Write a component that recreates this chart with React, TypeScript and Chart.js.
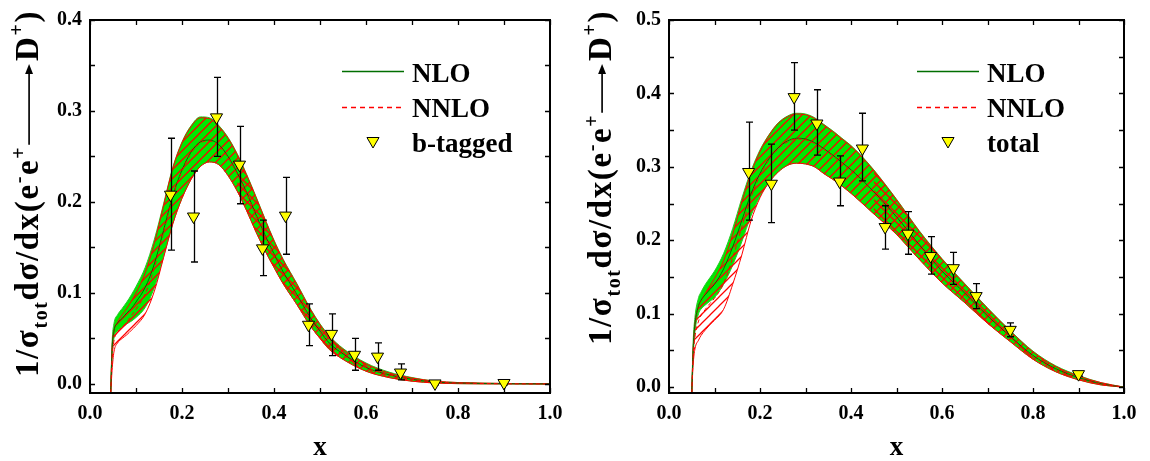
import React, { useEffect, useRef } from 'react';
import { Chart, registerables } from 'chart.js';
Chart.register(...registerables);

// ---------------- data ----------------
const X_TICK_VALUES = [0, 0.1, 0.2, 0.3, 0.4, 0.5, 0.6, 0.7, 0.8, 0.9, 1.0];
const X_TICK_LABELS = ['0.0', '0.2', '0.4', '0.6', '0.8', '1.0'];
const Y_TICK_VALUES_B = [0, 0.05, 0.1, 0.15, 0.2, 0.25, 0.3, 0.35, 0.4];
const Y_TICK_LABELS_B = ['0.0', '0.1', '0.2', '0.3', '0.4'];
const Y_TICK_VALUES_T = [0, 0.05, 0.1, 0.15, 0.2, 0.25, 0.3, 0.35, 0.4, 0.45, 0.5];
const Y_TICK_LABELS_T = ['0.0', '0.1', '0.2', '0.3', '0.4', '0.5'];

// left panel (b-tagged) theory curves
const XB = [0.045, 0.048, 0.052, 0.06, 0.07, 0.08, 0.09, 0.10, 0.12, 0.14, 0.16, 0.18, 0.20, 0.22, 0.24, 0.26, 0.28, 0.30, 0.32, 0.34, 0.36, 0.38, 0.40, 0.42, 0.45, 0.48, 0.50, 0.52, 0.55, 0.60, 0.65, 0.70, 0.75, 0.80, 0.90, 1.0];
const NLO_UP_B = [-0.01, 0.045, 0.066, 0.076, 0.083, 0.090, 0.098, 0.107, 0.128, 0.159, 0.198, 0.238, 0.266, 0.284, 0.2935, 0.2925, 0.284, 0.271, 0.253, 0.231, 0.207, 0.182, 0.158, 0.137, 0.110, 0.082, 0.066, 0.053, 0.039, 0.023, 0.013, 0.007, 0.003, 0.0015, 0.0005, 0.0];
const NLO_LO_B = [-0.01, 0.030, 0.050, 0.058, 0.062, 0.066, 0.069, 0.073, 0.084, 0.106, 0.140, 0.176, 0.204, 0.225, 0.239, 0.244, 0.241, 0.229, 0.212, 0.191, 0.168, 0.147, 0.128, 0.110, 0.087, 0.063, 0.050, 0.038, 0.027, 0.014, 0.007, 0.003, 0.001, 0.0003, 0.0, 0.0];
const NNLO_UP_B = [-0.01, 0.040, 0.058, 0.068, 0.076, 0.083, 0.091, 0.100, 0.122, 0.155, 0.196, 0.237, 0.265, 0.283, 0.2925, 0.2915, 0.283, 0.270, 0.252, 0.230, 0.206, 0.181, 0.157, 0.136, 0.109, 0.081, 0.065, 0.052, 0.038, 0.022, 0.012, 0.0065, 0.003, 0.0015, 0.0005, 0.0];
const NNLO_LO_B = [-0.01, 0.015, 0.035, 0.045, 0.050, 0.054, 0.059, 0.064, 0.077, 0.102, 0.139, 0.176, 0.204, 0.225, 0.239, 0.244, 0.241, 0.229, 0.212, 0.191, 0.168, 0.147, 0.128, 0.110, 0.087, 0.063, 0.050, 0.038, 0.027, 0.014, 0.007, 0.003, 0.001, 0.0003, 0.0, 0.0];
const NLO_C_B = [-0.01, 0.038, 0.058, 0.067, 0.072, 0.078, 0.083, 0.090, 0.106, 0.132, 0.169, 0.207, 0.235, 0.255, 0.266, 0.268, 0.263, 0.250, 0.232, 0.211, 0.187, 0.164, 0.143, 0.123, 0.098, 0.072, 0.058, 0.045, 0.033, 0.018, 0.010, 0.005, 0.002, 0.001, 0.0002, 0.0];
const NNLO_C_B = [-0.01, 0.028, 0.047, 0.057, 0.062, 0.068, 0.075, 0.082, 0.099, 0.128, 0.167, 0.206, 0.234, 0.254, 0.265, 0.267, 0.262, 0.249, 0.231, 0.210, 0.186, 0.163, 0.142, 0.122, 0.097, 0.071, 0.057, 0.044, 0.032, 0.018, 0.010, 0.005, 0.002, 0.001, 0.0002, 0.0];

// right panel (total) theory curves
const XT = [0.05, 0.053, 0.057, 0.065, 0.07, 0.08, 0.09, 0.10, 0.12, 0.14, 0.16, 0.18, 0.20, 0.22, 0.24, 0.26, 0.28, 0.30, 0.32, 0.34, 0.36, 0.38, 0.40, 0.42, 0.45, 0.50, 0.55, 0.60, 0.65, 0.70, 0.75, 0.80, 0.85, 0.90, 0.95, 1.0];
const NLO_UP_T = [-0.008, 0.060, 0.095, 0.122, 0.129, 0.140, 0.149, 0.158, 0.182, 0.216, 0.257, 0.294, 0.323, 0.344, 0.360, 0.369, 0.373, 0.372, 0.367, 0.358, 0.349, 0.339, 0.329, 0.317, 0.296, 0.256, 0.213, 0.175, 0.141, 0.108, 0.077, 0.049, 0.029, 0.016, 0.006, 0.0];
const NLO_LO_T = [-0.008, 0.040, 0.075, 0.100, 0.106, 0.112, 0.117, 0.122, 0.140, 0.166, 0.198, 0.233, 0.260, 0.279, 0.293, 0.302, 0.305, 0.304, 0.300, 0.291, 0.283, 0.274, 0.264, 0.253, 0.236, 0.208, 0.174, 0.142, 0.115, 0.087, 0.062, 0.038, 0.021, 0.010, 0.003, 0.0];
const NNLO_UP_T = [-0.008, 0.050, 0.085, 0.110, 0.117, 0.128, 0.138, 0.148, 0.172, 0.208, 0.252, 0.291, 0.321, 0.343, 0.359, 0.368, 0.372, 0.371, 0.366, 0.357, 0.348, 0.338, 0.328, 0.316, 0.295, 0.255, 0.212, 0.174, 0.140, 0.107, 0.076, 0.048, 0.028, 0.015, 0.006, 0.0];
const NNLO_LO_T = [-0.008, 0.030, 0.052, 0.064, 0.070, 0.078, 0.085, 0.091, 0.106, 0.140, 0.180, 0.226, 0.258, 0.279, 0.293, 0.302, 0.305, 0.304, 0.300, 0.291, 0.283, 0.274, 0.264, 0.253, 0.236, 0.208, 0.174, 0.142, 0.115, 0.087, 0.062, 0.038, 0.021, 0.010, 0.003, 0.0];
const NLO_C_T = [-0.008, 0.050, 0.085, 0.111, 0.118, 0.126, 0.133, 0.140, 0.161, 0.191, 0.227, 0.263, 0.291, 0.311, 0.326, 0.335, 0.339, 0.338, 0.333, 0.325, 0.316, 0.306, 0.296, 0.285, 0.266, 0.232, 0.194, 0.158, 0.128, 0.097, 0.069, 0.043, 0.025, 0.013, 0.0045, 0.0];
const NNLO_C_T = [-0.008, 0.040, 0.068, 0.090, 0.097, 0.106, 0.114, 0.121, 0.141, 0.176, 0.218, 0.258, 0.289, 0.310, 0.325, 0.334, 0.338, 0.337, 0.332, 0.324, 0.315, 0.305, 0.295, 0.284, 0.265, 0.231, 0.193, 0.157, 0.127, 0.096, 0.068, 0.042, 0.024, 0.012, 0.0043, 0.0];

// measured points
const DATA_X = [0.175, 0.225, 0.275, 0.325, 0.375, 0.425, 0.475, 0.525, 0.575, 0.625, 0.675, 0.75, 0.9];
const BTAG_Y = [0.208, 0.184, 0.293, 0.241, 0.149, 0.185, 0.065, 0.055, 0.032, 0.030, 0.0125, 0.0005, 0.001];
const BTAG_HI = [0.270, 0.234, 0.337, 0.283, 0.180, 0.227, 0.088, 0.077, 0.050, 0.045, 0.022, 0.002, 0.003];
const BTAG_LO = [0.147, 0.134, 0.250, 0.198, 0.119, 0.1425, 0.042, 0.031, 0.015, 0.015, 0.0044, -0.001, -0.001];
const TOTAL_Y = [0.293, 0.277, 0.395, 0.359, 0.280, 0.325, 0.218, 0.209, 0.1785, 0.162, 0.124, 0.078, 0.0177];
const TOTAL_HI = [0.361, 0.331, 0.442, 0.405, 0.315, 0.373, 0.247, 0.239, 0.205, 0.1835, 0.141, 0.0876, 0.021];
const TOTAL_LO = [0.2275, 0.224, 0.350, 0.316, 0.247, 0.281, 0.188, 0.181, 0.154, 0.140, 0.107, 0.0686, 0.015];

// ---------------- styling ----------------
const FONT = '"Liberation Serif", "Times New Roman", serif';
const GREEN_FILL = 'rgb(0,232,0)';
const GREEN_EDGE = 'rgb(40,200,40)';
const DARK_GREEN = 'rgb(0,110,0)';
const RED = 'rgb(255,0,0)';

function makeHatch(dir: number) {
  const s = 9;
  const c = document.createElement('canvas');
  c.width = s; c.height = s;
  const g = c.getContext('2d')!;
  g.strokeStyle = RED;
  g.lineWidth = 1.25;
  g.beginPath();
  if (dir > 0) {
    g.moveTo(-1, s + 1); g.lineTo(s + 1, -1);
    g.moveTo(-2, 2); g.lineTo(2, -2);
    g.moveTo(s - 2, s + 2); g.lineTo(s + 2, s - 2);
  } else {
    g.moveTo(-1, -1); g.lineTo(s + 1, s + 1);
    g.moveTo(s - 2, -2); g.lineTo(s + 2, 2);
    g.moveTo(-2, s - 2); g.lineTo(2, s + 2);
  }
  g.stroke();
  return g.createPattern(c, 'repeat')!;
}

type Cfg = {
  left: number; width: number; yAxisW: number; padRight: number;
  yMin: number; yMax: number; yTicks: number[]; yLabels: string[];
  xs: number[]; nloUp: number[]; nloLo: number[]; nnloUp: number[]; nnloLo: number[]; nloC: number[]; nnloC: number[];
  dy: number[]; dhi: number[]; dlo: number[]; label: string;
  titleBaseX: number; titleStartY: number; titleEndY: number; tailStart: number;
};

const LEFT: Cfg = {
  left: 0, width: 575, yAxisW: 90, padRight: 25,
  yMin: -0.01, yMax: 0.4, yTicks: Y_TICK_VALUES_B, yLabels: Y_TICK_LABELS_B,
  xs: XB, nloUp: NLO_UP_B, nloLo: NLO_LO_B, nnloUp: NNLO_UP_B, nnloLo: NNLO_LO_B, nloC: NLO_C_B, nnloC: NNLO_C_B,
  dy: BTAG_Y, dhi: BTAG_HI, dlo: BTAG_LO, label: 'b-tagged',
  titleBaseX: 38, titleStartY: 377, titleEndY: 10, tailStart: 0.32,
};
const RIGHT: Cfg = {
  left: 575, width: 575, yAxisW: 94, padRight: 26,
  yMin: -0.008, yMax: 0.5, yTicks: Y_TICK_VALUES_T, yLabels: Y_TICK_LABELS_T,
  xs: XT, nloUp: NLO_UP_T, nloLo: NLO_LO_T, nnloUp: NNLO_UP_T, nnloLo: NNLO_LO_T, nloC: NLO_C_T, nnloC: NNLO_C_T,
  dy: TOTAL_Y, dhi: TOTAL_HI, dlo: TOTAL_LO, label: 'total',
  titleBaseX: 36, titleStartY: 345, titleEndY: 10, tailStart: 0.45,
};

const pts = (xs: number[], ys: number[]) => xs.map((x, i) => ({ x, y: ys[i] }));
const DATA_INDEX = 7;

function drawYTitle(ctx: CanvasRenderingContext2D, baseX: number, startY: number, endY: number, size: number) {
  const small = Math.round(size * 0.62);
  const f = (s: number) => `bold ${s}px ${FONT}`;
  const parts: any[] = [
    { t: '1/σ', s: size, dy: 0 },
    { t: 'tot', s: small, dy: size * 0.27 },
    { t: 'dσ/dx(e', s: size, dy: 0 },
    { t: '-', s: small, dy: -size * 0.4 },
    { t: 'e', s: size, dy: 0 },
    { t: '+', s: small, dy: -size * 0.4 },
    { arrow: true },
    { t: 'D', s: size, dy: 0 },
    { t: '+', s: small, dy: -size * 0.45 },
    { t: ')', s: size, dy: 0 },
  ];
  ctx.save();
  ctx.translate(baseX, startY);
  ctx.rotate(-Math.PI / 2);
  ctx.fillStyle = '#000';
  ctx.strokeStyle = '#000';
  ctx.textAlign = 'left';
  ctx.textBaseline = 'alphabetic';
  (ctx as any).letterSpacing = '1.6px';
  let w = 0;
  for (const p of parts) {
    if (p.t) { ctx.font = f(p.s); p.w = ctx.measureText(p.t).width; w += p.w; }
  }
  const arrowLen = Math.max(30, (startY - endY) - w);
  let cx = 0;
  for (const p of parts) {
    if (p.arrow) {
      const ay = -size * 0.27;
      const x0 = cx + 1, x1 = cx + arrowLen - 3;
      ctx.lineWidth = Math.max(1.5, size * 0.05);
      ctx.beginPath(); ctx.moveTo(x0, ay); ctx.lineTo(x1 - size * 0.2, ay); ctx.stroke();
      ctx.beginPath();
      ctx.moveTo(x1, ay); ctx.lineTo(x1 - size * 0.3, ay - size * 0.12); ctx.lineTo(x1 - size * 0.3, ay + size * 0.12);
      ctx.closePath(); ctx.fill();
      cx += arrowLen;
    } else {
      ctx.font = f(p.s);
      ctx.fillText(p.t, cx, p.dy);
      cx += p.w;
    }
  }
  ctx.restore();
}

function buildConfig(cfg: Cfg): any {
  const hatchA = makeHatch(1);
  const hatchB = makeHatch(-1);
  const tickFont = { family: FONT, size: 20, weight: 'bold' as const };
  const line = (data: any, extra: any) => ({
    data, pointRadius: 0, borderWidth: 1, cubicInterpolationMode: 'monotone', fill: false, ...extra,
  });

  const errorBars = {
    id: 'errorBars',
    beforeDatasetDraw(chart: any, args: any) {
      if (args.index !== DATA_INDEX) return;
      const { ctx, scales: { x, y } } = chart;
      ctx.save();
      ctx.strokeStyle = '#000';
      ctx.lineWidth = 1.3;
      DATA_X.forEach((xv, i) => {
        const px = Math.round(x.getPixelForValue(xv)) + 0.5;
        const t = y.getPixelForValue(cfg.dhi[i]);
        const b = y.getPixelForValue(cfg.dlo[i]);
        ctx.beginPath();
        ctx.moveTo(px, t); ctx.lineTo(px, b);
        ctx.moveTo(px - 3.5, t); ctx.lineTo(px + 3.5, t);
        ctx.moveTo(px - 3.5, b); ctx.lineTo(px + 3.5, b);
        ctx.stroke();
      });
      ctx.restore();
    },
  };

  const frame = {
    id: 'frame',
    afterDatasetsDraw(chart: any) {
      const { ctx, chartArea: a, scales: { x, y } } = chart;
      ctx.save();
      ctx.strokeStyle = '#000';
      ctx.lineWidth = 1.3;
      const L = 5;
      ctx.beginPath();
      x.ticks.forEach((t: any) => {
        const px = Math.round(x.getPixelForValue(t.value)) + 0.5;
        ctx.moveTo(px, a.bottom); ctx.lineTo(px, a.bottom - L);
        ctx.moveTo(px, a.top); ctx.lineTo(px, a.top + L);
      });
      y.ticks.forEach((t: any) => {
        const py = Math.round(y.getPixelForValue(t.value)) + 0.5;
        ctx.moveTo(a.left, py); ctx.lineTo(a.left + L, py);
        ctx.moveTo(a.right, py); ctx.lineTo(a.right - L, py);
      });
      ctx.stroke();
      ctx.lineWidth = 2;
      ctx.strokeRect(a.left, a.top, a.right - a.left, a.bottom - a.top);
      ctx.restore();
    },
    afterDraw(chart: any) {
      const { ctx, chartArea: a } = chart;
      ctx.save();
      ctx.fillStyle = '#000';
      ctx.font = `bold 27px ${FONT}`;
      ctx.textAlign = 'center';
      ctx.textBaseline = 'alphabetic';
      ctx.fillText('x', (a.left + a.right) / 2, 455);
      ctx.textAlign = 'left';
      ctx.lineWidth = 1.3;
      ctx.strokeStyle = DARK_GREEN;
      ctx.beginPath(); ctx.moveTo(342, 71.5); ctx.lineTo(404, 71.5); ctx.stroke();
      ctx.fillText('NLO', 412, 82);
      ctx.strokeStyle = RED;
      ctx.setLineDash([5, 4]);
      ctx.beginPath(); ctx.moveTo(342, 107.5); ctx.lineTo(404, 107.5); ctx.stroke();
      ctx.setLineDash([]);
      ctx.fillText('NNLO', 412, 117);
      ctx.fillText(cfg.label, 412, 152);
      const r = 7, mx = 373, my = 141;
      ctx.fillStyle = '#ffff00';
      ctx.strokeStyle = '#000';
      ctx.lineWidth = 1;
      ctx.beginPath();
      ctx.moveTo(mx, my + r);
      ctx.lineTo(mx - r * 0.866, my - r / 2);
      ctx.lineTo(mx + r * 0.866, my - r / 2);
      ctx.closePath(); ctx.fill(); ctx.stroke();
      ctx.restore();
      drawYTitle(ctx, cfg.titleBaseX, cfg.titleStartY, cfg.titleEndY, 33);
    },
  };

  return {
    type: 'line',
    data: {
      datasets: [
        line(pts(cfg.xs, cfg.nloUp), { label: 'NLO up', borderColor: GREEN_EDGE, backgroundColor: GREEN_FILL, fill: 1, order: 10 }),
        line(pts(cfg.xs, cfg.nloLo), { label: 'NLO lo', borderColor: GREEN_EDGE, order: 9 }),
        line(pts(cfg.xs, cfg.nnloUp), { label: 'NNLO up', borderColor: RED, backgroundColor: hatchA, fill: 3, order: 8 }),
        line(pts(cfg.xs, cfg.nnloLo), { label: 'NNLO lo', borderColor: RED, order: 7 }),
        line(pts(cfg.xs, cfg.nnloUp), {
          label: 'NNLO tail', borderWidth: 0, borderColor: 'rgba(0,0,0,0)', backgroundColor: 'rgba(0,0,0,0)', fill: 3, order: 6,
          segment: { backgroundColor: (c: any) => (c.p0.parsed.x >= cfg.tailStart ? hatchB : 'rgba(0,0,0,0)') },
        }),
        line(pts(cfg.xs, cfg.nloC), { label: 'NLO', borderColor: DARK_GREEN, order: 4 }),
        line(pts(cfg.xs, cfg.nnloC), { label: 'NNLO', borderColor: RED, borderDash: [4, 3], order: 3 }),
        {
          label: cfg.label, data: pts(DATA_X, cfg.dy), showLine: false, order: 1,
          pointStyle: 'triangle', pointRotation: 180, pointRadius: 7, pointHoverRadius: 7,
          pointBackgroundColor: '#ffff00', pointBorderColor: '#000', pointBorderWidth: 1,
        },
      ],
    },
    options: {
      responsive: false,
      maintainAspectRatio: false,
      animation: false,
      devicePixelRatio: 1,
      events: [],
      layout: { padding: { left: 0, right: cfg.padRight, top: 20, bottom: 0 } },
      plugins: { legend: { display: false }, tooltip: { enabled: false }, title: { display: false } },
      scales: {
        x: {
          type: 'linear', min: 0, max: 1,
          grid: { display: false, drawTicks: false },
          border: { display: false },
          afterBuildTicks: (s: any) => { s.ticks = X_TICK_VALUES.map((v) => ({ value: v })); },
          afterFit: (s: any) => { s.height = 68; },
          ticks: {
            autoSkip: false, maxRotation: 0, padding: 9, color: '#000', font: tickFont,
            callback: (v: any) => { const l = Number(v).toFixed(1); return X_TICK_LABELS.includes(l) && Math.abs(Number(v) * 5 - Math.round(Number(v) * 5)) < 1e-6 ? l : ''; },
          },
        },
        y: {
          type: 'linear', min: cfg.yMin, max: cfg.yMax,
          grid: { display: false, drawTicks: false },
          border: { display: false },
          afterBuildTicks: (s: any) => { s.ticks = cfg.yTicks.map((v) => ({ value: v })); },
          afterFit: (s: any) => { s.width = cfg.yAxisW; },
          ticks: {
            autoSkip: false, padding: 8, color: '#000', font: tickFont,
            callback: (v: any) => { const l = Number(v).toFixed(1); return cfg.yLabels.includes(l) && Math.abs(Number(v) * 10 - Math.round(Number(v) * 10)) < 1e-6 ? l : ''; },
          },
        },
      },
    },
    plugins: [errorBars, frame],
  };
}

function Panel({ cfg }: { cfg: Cfg }) {
  const ref = useRef<HTMLCanvasElement>(null);
  useEffect(() => {
    const chart = new Chart(ref.current!, buildConfig(cfg));
    return () => chart.destroy();
  }, [cfg]);
  return (
    <canvas
      ref={ref}
      width={cfg.width}
      height={461}
      style={{ position: 'absolute', left: cfg.left, top: 0, width: cfg.width, height: 461, display: 'block' }}
    />
  );
}

export default function App() {
  return (
    <div style={{ position: 'absolute', left: 0, top: 0, width: 1150, height: 461, background: '#fff', overflow: 'hidden' }}>
      <Panel cfg={LEFT} />
      <Panel cfg={RIGHT} />
    </div>
  );
}
